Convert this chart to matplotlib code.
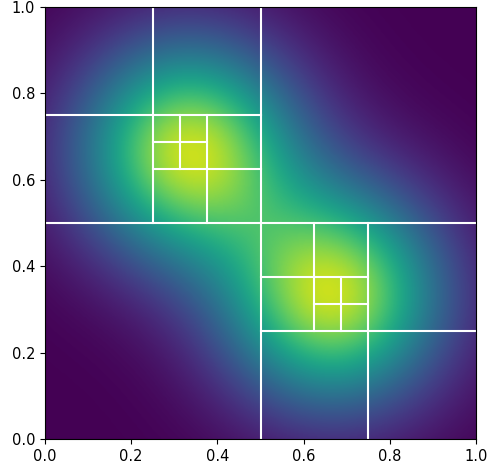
import numpy as np
import matplotlib
matplotlib.use("Agg")
import matplotlib.pyplot as plt

# Field parameters (two Gaussian bumps)
bump_centers_x = [1/3, 2/3]
bump_centers_y = [2/3, 1/3]
bump_width = 0.175
peak_fraction = 0.92  # peak colour sits at ~92% of viridis

# Quadtree cells that are split (x0, y0, size)
split_x0 = [0.0, 0.0, 0.25, 0.25, 0.5, 0.5, 0.625]
split_y0 = [0.0, 0.5, 0.5, 0.625, 0.0, 0.25, 0.25]
split_size = [1.0, 0.5, 0.25, 0.125, 0.5, 0.25, 0.125]

ticks = [0.0, 0.2, 0.4, 0.6, 0.8, 1.0]

n = 400
xs = (np.arange(n) + 0.5) / n
X, Y = np.meshgrid(xs, xs)
Z = np.zeros_like(X)
for cx, cy in zip(bump_centers_x, bump_centers_y):
    Z += np.exp(-((X - cx) ** 2 + (Y - cy) ** 2) / (2 * bump_width ** 2))

fig = plt.figure(figsize=(4.9, 4.7), dpi=100)
ax = fig.add_axes([45 / 490, 31 / 470, 431 / 490, 432 / 470])
ax.imshow(Z, origin="lower", extent=[0, 1, 0, 1], cmap="viridis",
          vmin=0, vmax=Z.max() / peak_fraction, interpolation="bilinear",
          aspect="auto")

for x0, y0, s in zip(split_x0, split_y0, split_size):
    ax.plot([x0 + s / 2, x0 + s / 2], [y0, y0 + s], color="white", lw=1.5)
    ax.plot([x0, x0 + s], [y0 + s / 2, y0 + s / 2], color="white", lw=1.5)

ax.set_xlim(0, 1)
ax.set_ylim(0, 1)
ax.set_xticks(ticks)
ax.set_yticks(ticks)
ax.tick_params(labelsize=10.5)

fig.savefig("out.png", dpi=100)
